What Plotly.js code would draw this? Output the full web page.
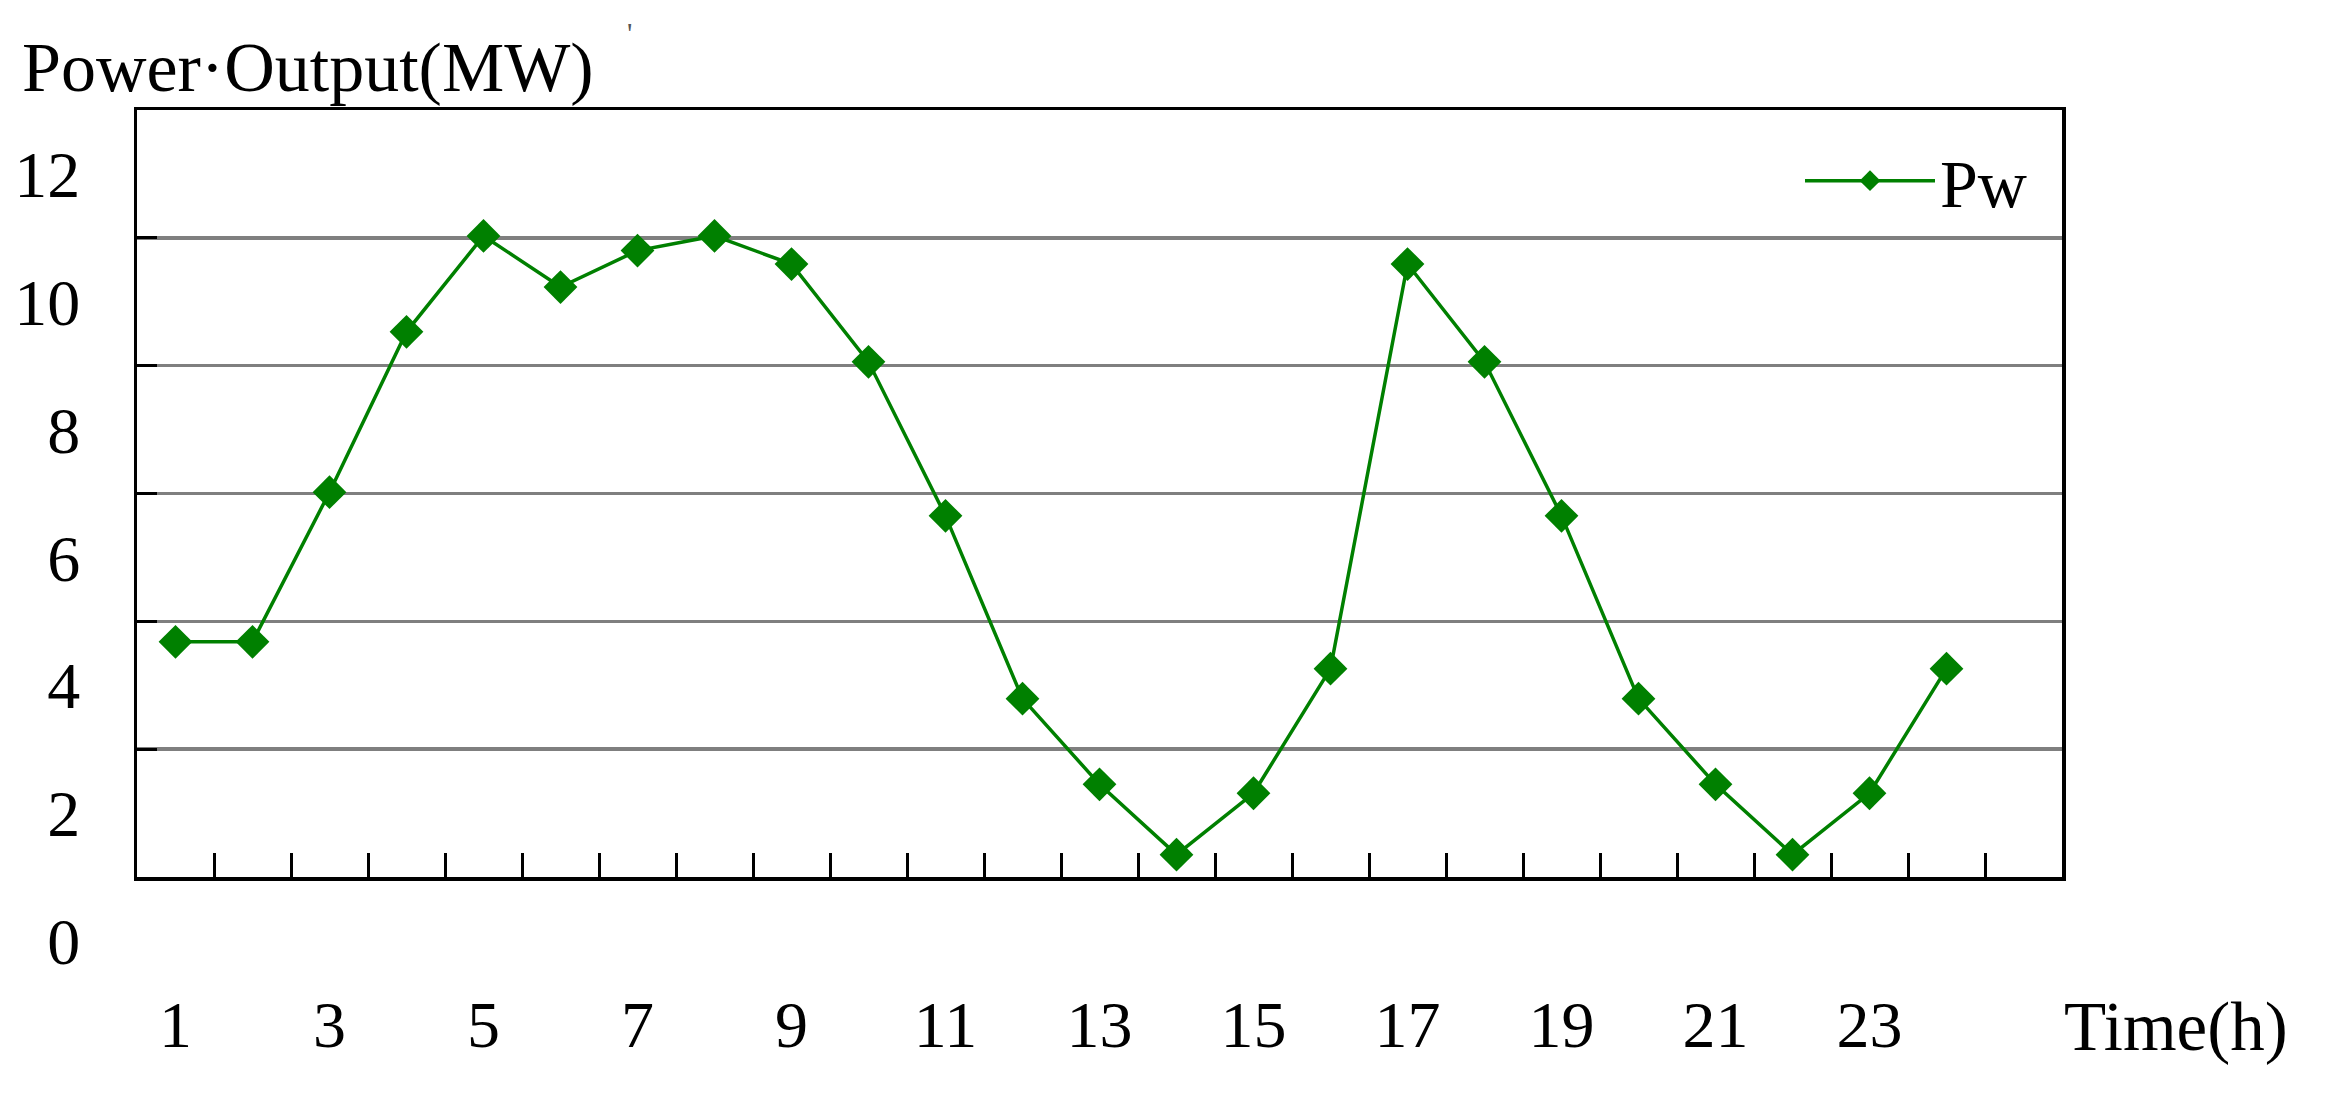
<!DOCTYPE html>
<html>
<head>
<meta charset="utf-8">
<script src="https://cdn.plot.ly/plotly-3.0.1.min.js"></script>
<style>
  html, body { margin: 0; padding: 0; background: #ffffff; }
  #chart { width: 2332px; height: 1103px; }
</style>
</head>
<body>
<div id="chart"></div>
<script>
// hourly wind power output
const hours = [1, 2, 3, 4, 5, 6, 7, 8, 9, 10, 11, 12, 13, 14, 15, 16, 17, 18, 19, 20, 21, 22, 23, 24];
const pw = [4.68, 4.68, 7.02, 9.53, 11.03, 10.23, 10.80, 11.03, 10.59, 9.06, 6.65, 3.79,
            2.45, 1.35, 2.31, 4.26, 10.59, 9.06, 6.65, 3.79, 2.45, 1.35, 2.31, 4.26];

// x ticks sit between the hours, labels only on odd hours
const hourTicks = hours.map(h => h + 0.5);
const hourLabels = [1, 3, 5, 7, 9, 11, 13, 15, 17, 19, 21, 23];

// gridlines on odd values, the labels are drawn one unit lower (as in the original)
const gridVals = [1, 3, 5, 7, 9, 11, 13];
const yLabels = ['0', '2', '4', '6', '8', '10', '12'];

const serif = 'Liberation Serif, Times New Roman, serif';
const green = '#008000';

const trace = {
  x: hours,
  y: pw,
  type: 'scatter',
  mode: 'lines+markers',
  name: 'Pw',
  line: { color: green, width: 3.5 },
  marker: { symbol: 'diamond', size: 26, color: green }
};

const layout = {
  width: 2332,
  height: 1103,
  paper_bgcolor: '#ffffff',
  plot_bgcolor: '#ffffff',
  margin: { l: 137, r: 270, t: 110, b: 226 },
  font: { family: serif, color: '#000000', size: 66 },
  title: {
    text: 'Power·Output(MW)',
    xref: 'container', yref: 'container',
    x: 22 / 2332, xanchor: 'left',
    y: 1 - 66 / 1103, yanchor: 'middle',
    font: { family: serif, size: 70, color: '#000000' }
  },
  showlegend: true,
  legend: {
    x: 1 - 30 / 1925, xanchor: 'right',
    y: 1 - 20 / 767, yanchor: 'top',
    bgcolor: 'rgba(0,0,0,0)',
    itemwidth: 130,
    font: { family: serif, size: 68, color: '#000000' }
  },
  xaxis: {
    range: [0.5, 25.5],
    tickmode: 'array',
    tickvals: hourLabels,
    ticktext: hourLabels.map(String),
    ticks: '',
    ticklabelstandoff: 87,
    tickfont: { family: serif, size: 66, color: '#000000' },
    minor: {
      tickmode: 'array',
      tickvals: hourTicks,
      ticks: 'inside',
      ticklen: 24,
      tickwidth: 3,
      tickcolor: '#000000',
      showgrid: false
    },
    showgrid: false,
    zeroline: false,
    showline: true,
    linecolor: '#000000',
    linewidth: 3.5,
    mirror: true
  },
  yaxis: {
    range: [1, 13],
    tickmode: 'array',
    tickvals: gridVals,
    ticktext: yLabels,
    ticks: 'inside',
    ticklen: 20,
    tickwidth: 3,
    tickcolor: '#000000',
    ticklabelshift: 64,
    ticklabelstandoff: 40,
    showgrid: true,
    gridcolor: '#7f7f7f',
    gridwidth: 3.5,
    zeroline: false,
    showline: true,
    linecolor: '#000000',
    linewidth: 3.5,
    mirror: true,
    tickfont: { family: serif, size: 66, color: '#000000' }
  },
  annotations: [
    {
      text: 'Time(h)',
      xref: 'paper', yref: 'paper',
      x: 1, xanchor: 'left', xshift: 0,
      y: 0, yanchor: 'middle', yshift: -150,
      showarrow: false,
      font: { family: serif, size: 69, color: '#000000' }
    },
    {
      text: '\'',
      xref: 'paper', yref: 'paper',
      x: 0, xanchor: 'left', xshift: 488,
      y: 1, yanchor: 'middle', yshift: 78,
      showarrow: false,
      font: { family: serif, size: 30, color: '#555555' }
    }
  ]
};

Plotly.newPlot('chart', [trace], layout, { staticPlot: true, displayModeBar: false });
</script>
</body>
</html>
